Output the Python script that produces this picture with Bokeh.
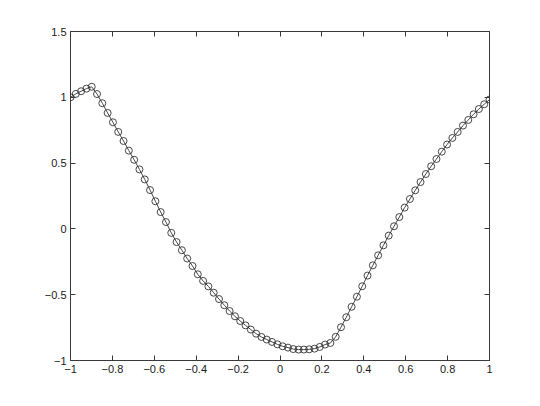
import numpy as np
from bokeh.plotting import figure
from bokeh.models import LinearAxis, FixedTicker, Range1d
from bokeh.embed import file_html
from bokeh.resources import INLINE

# sample positions: 80 evenly spaced points on [-1, 1]
x_vals = np.linspace(-1, 1, 80)
y_vals = [
    1.000, 1.026, 1.046, 1.066, 1.080, 1.025, 0.955, 0.881, 0.810, 0.737,
    0.668, 0.595, 0.525, 0.452, 0.376, 0.295, 0.210, 0.128, 0.052, -0.030,
    -0.100, -0.162, -0.225, -0.282, -0.345, -0.395, -0.437, -0.485, -0.533, -0.580,
    -0.624, -0.664, -0.700, -0.733, -0.765, -0.796, -0.821, -0.841, -0.859, -0.877,
    -0.892, -0.902, -0.913, -0.917, -0.917, -0.915, -0.910, -0.897, -0.879, -0.867,
    -0.820, -0.747, -0.671, -0.592, -0.515, -0.436, -0.355, -0.277, -0.201, -0.125,
    -0.051, 0.020, 0.090, 0.162, 0.227, 0.293, 0.356, 0.417, 0.476, 0.531,
    0.587, 0.641, 0.691, 0.737, 0.785, 0.828, 0.871, 0.911, 0.947, 0.983,
]

x_ticks = [-1, -0.8, -0.6, -0.4, -0.2, 0, 0.2, 0.4, 0.6, 0.8, 1]
x_tick_labels = ["\u22121", "\u22120.8", "\u22120.6", "\u22120.4", "\u22120.2", "0",
                 "0.2", "0.4", "0.6", "0.8", "1"]
y_ticks = [-1, -0.5, 0, 0.5, 1, 1.5]
y_tick_labels = ["\u22121", "\u22120.5", "0", "0.5", "1", "1.5"]

FONT = "Liberation Sans"
AX = "#3a3a3a"

p = figure(output_backend="svg", toolbar_location=None,
           frame_width=419, frame_height=329,
           x_range=Range1d(-1, 1), y_range=Range1d(-1, 1.5),
           x_axis_location=None, y_axis_location=None,
           min_border_left=70, min_border_top=31, min_border_right=35, min_border_bottom=30)
p.background_fill_color = "white"
p.border_fill_color = "white"
p.outline_line_color = AX
p.outline_line_width = 1
p.grid.visible = False

def make_axis(ticks, labels, show_labels):
    ax = LinearAxis(ticker=FixedTicker(ticks=ticks))
    ax.major_label_overrides = {t: l for t, l in zip(ticks, labels)}
    ax.axis_line_color = AX
    ax.major_tick_line_color = AX
    ax.major_tick_in = 5
    ax.major_tick_out = 0
    ax.minor_tick_line_color = None
    ax.major_label_text_font = FONT
    ax.major_label_text_font_size = "11px"
    ax.major_label_text_color = "#1a1a1a" if show_labels else None
    ax.major_label_standoff = 4
    return ax

p.add_layout(make_axis(x_ticks, x_tick_labels, True), "below")
p.add_layout(make_axis(y_ticks, y_tick_labels, True), "left")
p.add_layout(make_axis(x_ticks, x_tick_labels, False), "above")
p.add_layout(make_axis(y_ticks, y_tick_labels, False), "right")

p.line(x_vals, y_vals, line_color="#333333", line_width=0.9)
p.scatter(x_vals, y_vals, marker="circle", size=7, fill_color=None,
          line_color="#333333", line_width=0.9)

open("out.html", "w").write(file_html(p, INLINE))
